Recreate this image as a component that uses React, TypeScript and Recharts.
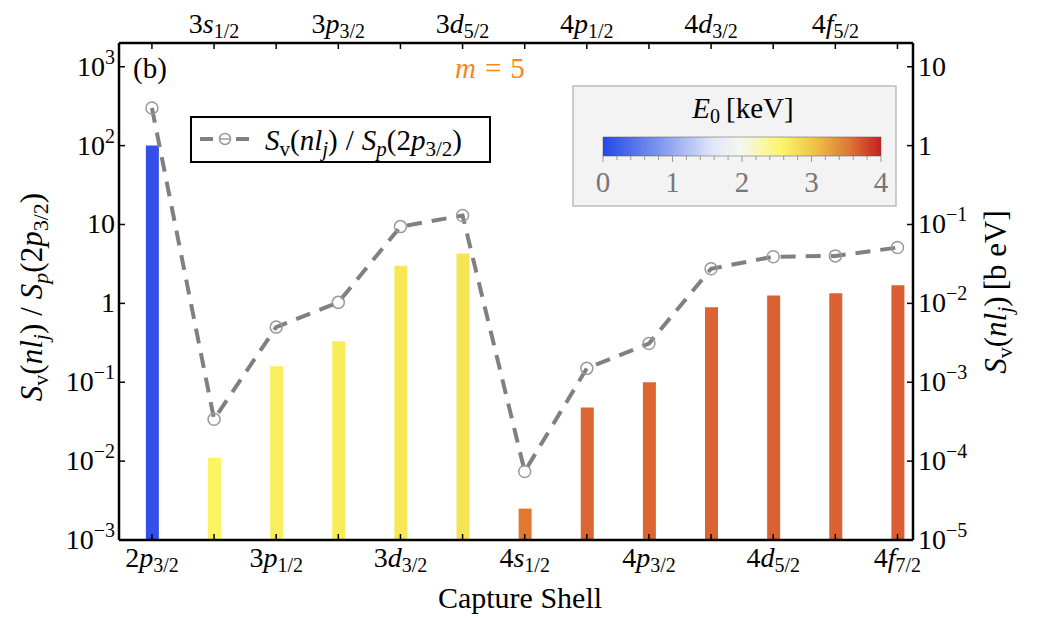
import React from 'react';
import { ComposedChart, Bar, Line, XAxis, YAxis, Cell } from 'recharts';

// capture shells (n, l, j) in order along the x axis
const shells = ['2p3/2', '3s1/2', '3p1/2', '3p3/2', '3d3/2', '3d5/2', '4s1/2', '4p1/2', '4p3/2', '4d3/2', '4d5/2', '4f5/2', '4f7/2'];
// S_v(nl_j) [b eV] shown on the left scale (x100)
const barValues = [100, 0.011, 0.16, 0.33, 3.0, 4.3, 0.0025, 0.048, 0.1, 0.89, 1.26, 1.34, 1.7];
// S_v(nl_j) / S_p(2p3/2)
const ratioValues = [300, 0.034, 0.5, 1.03, 9.4, 13, 0.0074, 0.15, 0.31, 2.75, 3.9, 4.0, 5.1];
const barColors = ['#3350e8', '#fdf462', '#f9ee5e', '#f9ec5a', '#f7e656', '#f7e454', '#e0782f', '#dc6632', '#dc6632', '#db6232', '#db6032', '#db6032', '#da5e31'];
const leftTicks = [1e-3, 1e-2, 1e-1, 1, 10, 100, 1000];
const rightTicks = [1e-5, 1e-4, 1e-3, 1e-2, 1e-1, 1, 10];
const colorbarTicks = [0, 1, 2, 3, 4];

const data = shells.map((s, i) => ({ i, shell: s, bar: barValues[i], ratio: ratioValues[i] }));

const W = 1030;
const H = 610;
const L = 111;
const T = 35;
const R = 905;
const B = 532;
const FONT = 'Liberation Serif';

const Pow = ({ v }: { v: number }) => {
  const e = Math.round(Math.log10(v));
  if (e === 0) return <tspan>1</tspan>;
  if (e === 1) return <tspan>10</tspan>;
  return (
    <>
      <tspan>10</tspan>
      <tspan dy={-12} fontSize={20}>{e < 0 ? '\u2212' + -e : String(e)}</tspan>
    </>
  );
};

const ShellText = ({ s }: { s: string }) => (
  <>
    <tspan>{s[0]}</tspan>
    <tspan fontStyle="italic">{s[1]}</tspan>
    <tspan fontSize={20} dy={5}>{s.slice(2)}</tspan>
  </>
);

const LeftTick = (p: any) => (
  <g>
    <line x1={L} x2={L + 6} y1={p.y} y2={p.y} stroke="#000" strokeWidth={1.5} />
    <text x={L - 4} y={p.y + 9} textAnchor="end" fontFamily={FONT} fontSize={28} fill="#000">
      <Pow v={p.payload.value} />
    </text>
  </g>
);

const RightTick = (p: any) => (
  <g>
    <line x1={R} x2={R - 6} y1={p.y} y2={p.y} stroke="#000" strokeWidth={1.5} />
    <text x={R + 5} y={p.y + 9} textAnchor="start" fontFamily={FONT} fontSize={28} fill="#000">
      <Pow v={p.payload.value} />
    </text>
  </g>
);

const BottomTick = (p: any) => {
  const i = Math.round(p.payload.value);
  return (
    <g>
      <line x1={p.x} x2={p.x} y1={B} y2={B - 6} stroke="#000" strokeWidth={1.5} />
      {i % 2 === 0 && (
        <text x={p.x} y={B + 27} textAnchor="middle" fontFamily={FONT} fontSize={28} fill="#000">
          <ShellText s={shells[i]} />
        </text>
      )}
    </g>
  );
};

const TopTick = (p: any) => {
  const i = Math.round(p.payload.value);
  return (
    <g>
      <line x1={p.x} x2={p.x} y1={T} y2={T + 6} stroke="#000" strokeWidth={1.5} />
      {i % 2 === 1 && (
        <text x={p.x} y={T - 10} textAnchor="middle" fontFamily={FONT} fontSize={28} fill="#000">
          <ShellText s={shells[i]} />
        </text>
      )}
    </g>
  );
};

const RatioDot = (p: any) => (
  <circle key={p.index} cx={p.cx} cy={p.cy} r={6} fill="none" stroke="#9a9a9a" strokeWidth={1.5} />
);

const gradStops = [
  [0, '#2448e6'],
  [0.2, '#7d95ef'],
  [0.4, '#e3e8f8'],
  [0.5, '#f6f7ee'],
  [0.64, '#fbf66a'],
  [0.76, '#eec446'],
  [0.88, '#de7a36'],
  [1, '#c91f24'],
];

const SvPart = ({ sub }: { sub: number }) => (
  <>
    <tspan fontStyle="italic">S</tspan>
    <tspan fontSize={sub} dy={6}>v</tspan>
    <tspan dy={-6}>(</tspan>
    <tspan fontStyle="italic">nl</tspan>
    <tspan fontSize={sub} dy={6} fontStyle="italic">j</tspan>
    <tspan dy={-6}>)</tspan>
  </>
);

const RatioText = ({ sub }: { sub: number }) => (
  <>
    <SvPart sub={sub} />
    <tspan dx={8}>/</tspan>
    <tspan dx={8} fontStyle="italic">S</tspan>
    <tspan fontSize={sub} dy={6} fontStyle="italic">p</tspan>
    <tspan dy={-6}>(2</tspan>
    <tspan fontStyle="italic">p</tspan>
    <tspan fontSize={sub} dy={6}>3/2</tspan>
    <tspan dy={-6}>)</tspan>
  </>
);

const App = () => {
  const cbX = 595;
  const cbW = 278;
  return (
    <div style={{ position: 'relative', width: W, height: H }}>
      <ComposedChart width={W} height={H} data={data} margin={{ top: 5, right: 25, bottom: 28, left: 31 }}>
        <XAxis
          xAxisId="b"
          dataKey="i"
          type="number"
          domain={[-0.53, 12.25]}
          ticks={data.map((d) => d.i)}
          allowDataOverflow
          height={50}
          tickSize={0}
          axisLine={{ stroke: '#000', strokeWidth: 2.5 }}
          tick={BottomTick}
          interval={0}
        />
        <XAxis
          xAxisId="t"
          orientation="top"
          dataKey="i"
          type="number"
          domain={[-0.53, 12.25]}
          ticks={data.map((d) => d.i)}
          allowDataOverflow
          height={30}
          tickSize={0}
          axisLine={{ stroke: '#000', strokeWidth: 2.5 }}
          tick={TopTick}
          interval={0}
        />
        <YAxis
          yAxisId="l"
          scale="log"
          domain={[1e-3, 2000]}
          ticks={leftTicks}
          allowDataOverflow
          width={80}
          tickSize={0}
          axisLine={{ stroke: '#000', strokeWidth: 2.5 }}
          tick={LeftTick}
          interval={0}
        />
        <YAxis
          yAxisId="r"
          orientation="right"
          scale="log"
          domain={[1e-5, 20]}
          ticks={rightTicks}
          allowDataOverflow
          width={100}
          tickSize={0}
          axisLine={{ stroke: '#000', strokeWidth: 2.5 }}
          tick={RightTick}
          interval={0}
        />
        <Bar xAxisId="b" yAxisId="l" dataKey="bar" barSize={13} isAnimationActive={false}>
          {data.map((d, i) => (
            <Cell key={d.shell} fill={barColors[i]} />
          ))}
        </Bar>
        <Line
          xAxisId="b"
          yAxisId="l"
          dataKey="ratio"
          stroke="#808080"
          strokeWidth={4}
          strokeDasharray="15 10"
          dot={RatioDot}
          isAnimationActive={false}
        />
      </ComposedChart>
      <svg width={W} height={H} style={{ position: 'absolute', left: 0, top: 0, pointerEvents: 'none' }} fontFamily={FONT}>
        <text x={125} y={70} fontSize={29} fontFamily={FONT}>(b)</text>
        <text x={447} y={70} fontSize={29} fill="#f5871f" fontFamily={FONT}>
          <tspan fontStyle="italic">m</tspan>
          <tspan dx={9}>=</tspan>
          <tspan dx={9}>5</tspan>
        </text>

        <rect x={183} y={109} width={299} height={45} fill="#fff" stroke="#000" strokeWidth={2} />
        <line x1={192} x2={205} y1={131} y2={131} stroke="#808080" strokeWidth={4} />
        <circle cx={217} cy={131} r={5.5} fill="#fff" stroke="#9a9a9a" strokeWidth={1.5} />
        <line x1={212} x2={222} y1={131} y2={131} stroke="#9a9a9a" strokeWidth={1.5} />
        <line x1={228} x2={241} y1={131} y2={131} stroke="#808080" strokeWidth={4} />
        <text x={257} y={142} fontSize={29} fontFamily={FONT}>
          <RatioText sub={21} />
        </text>

        <defs>
          <linearGradient id="e0grad" x1="0" x2="1" y1="0" y2="0">
            {gradStops.map(([o, c]) => (
              <stop key={String(o)} offset={o as number} stopColor={c as string} />
            ))}
          </linearGradient>
        </defs>
        <rect x={565} y={78} width={323} height={120} fill="#f3f3f3" stroke="#bdbdbd" strokeWidth={1.5} />
        <text x={735} y={110} fontSize={29} textAnchor="middle" fontFamily={FONT}>
          <tspan fontStyle="italic">E</tspan>
          <tspan fontSize={20} dy={5}>0</tspan>
          <tspan dy={-5} dx={6}>[keV]</tspan>
        </text>
        <rect x={cbX} y={129} width={cbW} height={19} fill="url(#e0grad)" stroke="#555" strokeWidth={0.5} />
        {Array.from({ length: 21 }, (_, k) => (
          <line
            key={k}
            x1={cbX + (cbW * k) / 20}
            x2={cbX + (cbW * k) / 20}
            y1={148}
            y2={k % 5 === 0 ? 154 : 152}
            stroke="#999"
            strokeWidth={1}
          />
        ))}
        {colorbarTicks.map((t) => (
          <text key={t} x={cbX + (cbW * t) / 4} y={184} fontSize={29} fill="#777" textAnchor="middle" fontFamily={FONT}>
            {t}
          </text>
        ))}

        <text transform="translate(34,289) rotate(-90)" fontSize={31} textAnchor="middle" fontFamily={FONT}>
          <RatioText sub={22} />
        </text>
        <text transform="translate(998,284) rotate(-90)" fontSize={31} textAnchor="middle" fontFamily={FONT}>
          <SvPart sub={22} />
          <tspan dx={6}>[b eV]</tspan>
        </text>
        <text x={512} y={600} fontSize={30} textAnchor="middle" fontFamily={FONT}>Capture Shell</text>
      </svg>
    </div>
  );
};

export default App;
